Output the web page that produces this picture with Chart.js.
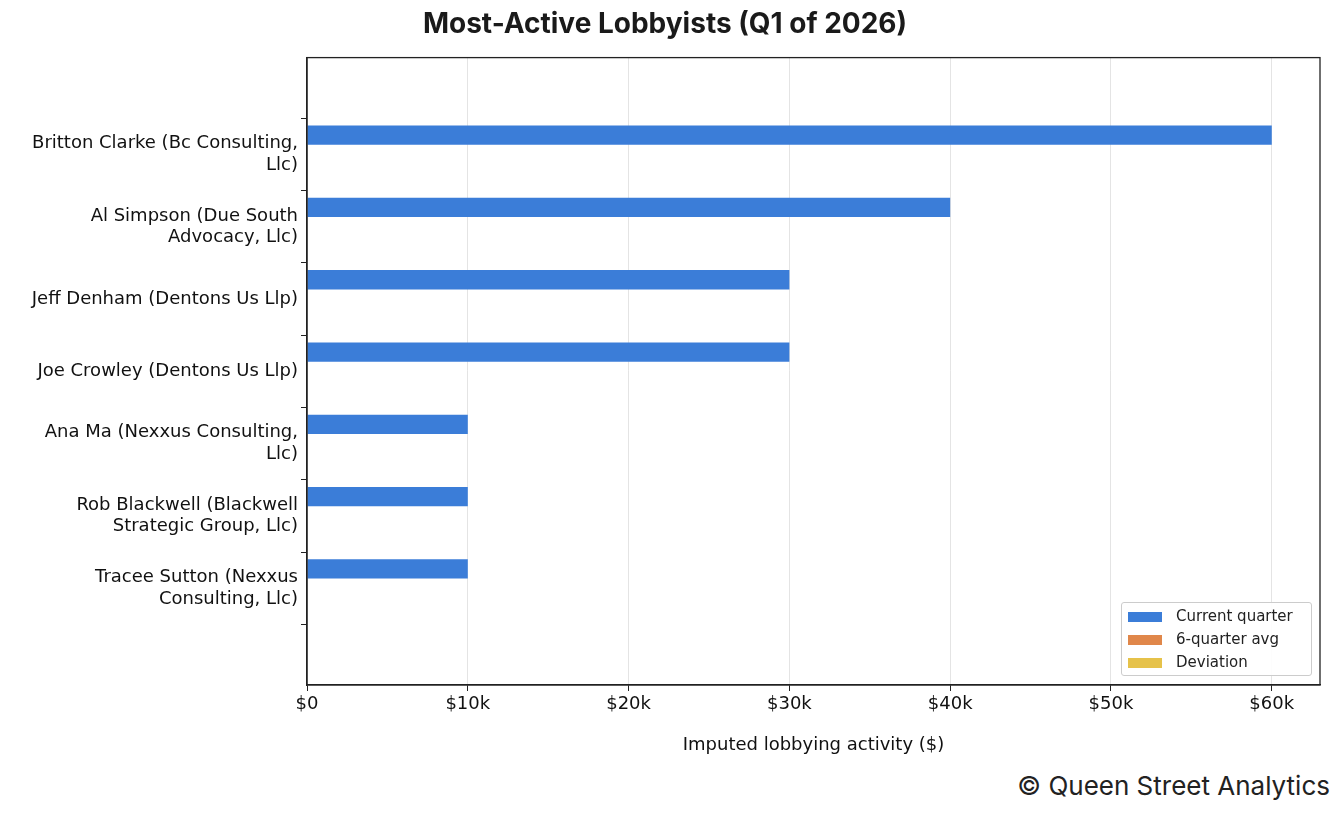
<!DOCTYPE html>
<html>
<head>
<meta charset="utf-8">
<script src="https://cdn.jsdelivr.net/npm/chart.js@4"></script>
<style>
  body { margin: 0; background: #fff; width: 1344px; height: 816px; position: relative; overflow: hidden; }
  #wrap { position: absolute; left: 0; top: 0; width: 1344px; height: 760px; }
  #legend { position: absolute; left: 1121px; top: 602px; width: 191px; height: 74px; border: 1px solid #ccc; border-radius: 3px; background: rgba(255,255,255,0.9);
    font: 15px "DejaVu Sans", sans-serif; color: #222; box-sizing: border-box; padding: 2px 0 0 6px; }
  #legend div { height: 23px; line-height: 23px; }
  #legend span { display: inline-block; width: 34px; height: 10px; margin-right: 14px; vertical-align: -1px; }
  #footer { position: absolute; right: 14px; top: 770px; font: 26px Inter, sans-serif; color: #222; }
</style>
</head>
<body>
<div id="wrap"><canvas id="myChart"></canvas></div>
<div id="legend">
  <div><span style="background:#3b7dd8"></span>Current quarter</div>
  <div><span style="background:#e0874a"></span>6-quarter avg</div>
  <div><span style="background:#e6c24a"></span>Deviation</div>
</div>
<div id="footer">© Queen Street Analytics</div>
<script>
var lobbyists = [
    ["Britton Clarke (Bc Consulting,", "Llc)"],
    ["Al Simpson (Due South", "Advocacy, Llc)"],
    "Jeff Denham (Dentons Us Llp)",
    "Joe Crowley (Dentons Us Llp)",
    ["Ana Ma (Nexxus Consulting,", "Llc)"],
    ["Rob Blackwell (Blackwell", "Strategic Group, Llc)"],
    ["Tracee Sutton (Nexxus", "Consulting, Llc)"],
];
var currentQuarter = [60000, 40000, 30000, 30000, 10000, 10000, 10000];
var sixQuarterAvg = [0, 0, 0, 0, 0, 0, 0];
var deviation = [0, 0, 0, 0, 0, 0, 0];
var xTicks = [0, 10000, 20000, 30000, 40000, 50000, 60000];

function points(values) {
    return values.map(function (v, i) { return { x: v, y: i }; });
}

var tickFont = { family: "DejaVu Sans", size: 18 };
var ctx = document.getElementById("myChart").getContext("2d");
var myChart = new Chart(ctx, {
    type: "bar",
    data: {
        datasets: [
            { label: "Current quarter", data: points(currentQuarter), backgroundColor: "#3b7dd8" },
            { label: "6-quarter avg", data: points(sixQuarterAvg), backgroundColor: "#e0874a" },
            { label: "Deviation", data: points(deviation), backgroundColor: "#e6c24a" },
        ],
    },
    options: {
        indexAxis: "y",
        responsive: true,
        maintainAspectRatio: false,
        animation: false,
        categoryPercentage: 0.8,
        barPercentage: 1,
        layout: { padding: { left: 10, right: 24, top: 0, bottom: 0 } },
        plugins: {
            legend: { display: false },
            tooltip: { enabled: false },
            title: {
                display: true,
                text: "Most-Active Lobbyists (Q1 of 2026)",
                color: "#1a1a1a",
                font: { family: "Inter", size: 28, weight: "bold" },
                padding: { top: 8, bottom: 16 },
            },
        },
        scales: {
            x: {
                min: 0,
                max: 63000,
                afterBuildTicks: function (s) {
                    s.ticks = xTicks.map(function (v) { return { value: v }; });
                },
                afterTickToLabelConversion: function (s) {
                    s.ticks.forEach(function (t) { t.label = t.value === 0 ? "$0" : "$" + t.value / 1000 + "k"; });
                },
                afterFit: function (s) { s.height = 75; },
                ticks: { color: "#111", font: tickFont, maxRotation: 0, autoSkip: false },
                grid: { color: "#e4e4e4", drawTicks: true, tickColor: "#222", tickLength: 6 },
                border: { color: "#222", width: 1.3 },
                title: { display: true, text: "Imputed lobbying activity ($)", color: "#111", font: tickFont, padding: { top: 0 } },
            },
            y: {
                type: "linear",
                reverse: true,
                min: -0.72,
                max: 6.72,
                afterBuildTicks: function (s) {
                    s.ticks = lobbyists.map(function (l, i) { return { value: i }; });
                },
                afterTickToLabelConversion: function (s) {
                    s.ticks.forEach(function (t) { t.label = lobbyists[t.value]; });
                },
                afterFit: function (s) { s.width = 297; },
                ticks: { color: "#111", font: tickFont, autoSkip: false },
                grid: { display: true, drawOnChartArea: false, tickColor: "#222", tickLength: 6 },
                border: { color: "#222", width: 1.3 },
            },
        },
    },
    plugins: [{
        id: "frame",
        afterDraw: function (chart) {
            var a = chart.chartArea, c = chart.ctx;
            c.save();
            c.strokeStyle = "#222";
            c.lineWidth = 1.3;
            c.strokeRect(a.left, a.top, a.right - a.left, a.bottom - a.top);
            c.restore();
        },
    }],
});
</script>
</body>
</html>
